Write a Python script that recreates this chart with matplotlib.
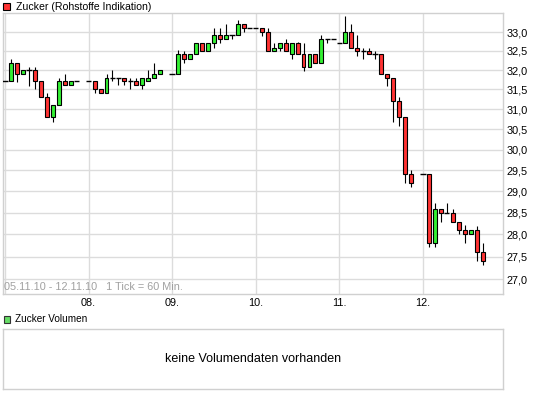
import matplotlib
matplotlib.use('Agg')
import matplotlib.pyplot as plt
from matplotlib.ticker import NullLocator, NullFormatter
from matplotlib.patches import Rectangle

plt.rcParams['font.family'] = ['Liberation Sans', 'DejaVu Sans']

# hourly slot index (14 slots per trading day)
slots = [0, 1, 2, 3, 4, 5, 6, 7, 8, 9, 10, 11, 12,
         14, 15, 16, 17, 18, 19, 20, 21, 22, 23, 24, 25, 26,
         28, 29, 30, 31, 32, 33, 34, 35, 36, 37, 38, 39, 40, 41,
         42, 43, 44, 45, 46, 47, 48, 49, 50, 51, 52, 53, 54, 55,
         56, 57, 58, 59, 60, 61, 62, 63, 64, 65, 66, 67, 68,
         70, 71, 72, 73, 74, 75, 76, 77, 78, 79, 80]
opens = [31.71, 31.71, 32.19, 31.90, 32.00, 32.00, 31.71, 31.30, 30.80, 31.10, 31.71, 31.61, 31.71,
         31.71, 31.71, 31.50, 31.40, 31.80, 31.80, 31.80, 31.71, 31.71, 31.61, 31.71, 31.80, 31.90,
         31.90, 31.90, 32.41, 32.30, 32.41, 32.70, 32.50, 32.70, 32.93, 32.81, 32.93, 32.93, 33.22, 33.11,
         33.11, 33.11, 33.00, 32.50, 32.59, 32.70, 32.41, 32.70, 32.41, 32.07, 32.41, 32.18, 32.81, 32.81,
         32.70, 32.70, 33.00, 32.59, 32.50, 32.50, 32.41, 32.41, 31.90, 31.80, 31.20, 30.80, 29.40,
         29.40, 29.40, 27.80, 28.59, 28.49, 28.49, 28.29, 28.10, 28.00, 28.10, 27.60]
highs = [31.71, 32.30, 32.19, 32.00, 32.09, 32.09, 31.71, 31.42, 31.10, 31.80, 31.90, 31.71, 31.71,
         31.71, 31.71, 31.50, 31.90, 32.00, 31.80, 31.80, 31.80, 31.80, 31.80, 32.00, 32.19, 32.00,
         31.90, 32.52, 32.50, 32.41, 32.70, 32.70, 32.70, 33.11, 33.11, 33.22, 32.93, 33.32, 33.22, 33.11,
         33.11, 33.11, 33.11, 32.70, 32.70, 32.81, 32.70, 32.75, 32.70, 32.41, 32.41, 32.93, 32.81, 32.81,
         32.70, 33.43, 33.22, 32.93, 32.59, 32.59, 32.50, 32.41, 31.90, 31.80, 31.30, 30.80, 29.51,
         29.40, 29.40, 28.72, 28.59, 28.72, 28.59, 28.29, 28.21, 28.10, 28.20, 27.80]
lows = [31.71, 31.71, 31.70, 31.90, 31.60, 31.50, 31.30, 30.80, 30.69, 31.10, 31.61, 31.61, 31.71,
        31.71, 31.40, 31.40, 31.40, 31.71, 31.61, 31.61, 31.50, 31.61, 31.50, 31.71, 31.80, 31.90,
        31.90, 31.90, 32.18, 32.30, 32.41, 32.50, 32.50, 32.59, 32.70, 32.81, 32.81, 32.93, 33.00, 33.11,
        33.11, 32.90, 32.50, 32.50, 32.50, 32.50, 32.30, 32.41, 31.98, 32.07, 32.18, 32.18, 32.70, 32.81,
        32.70, 32.70, 32.59, 32.38, 32.30, 32.41, 32.30, 31.90, 31.59, 30.69, 30.59, 29.20, 29.10,
        29.40, 27.71, 27.71, 28.28, 28.49, 28.29, 28.00, 27.80, 28.00, 27.40, 27.31]
closes = [31.71, 32.19, 31.90, 32.00, 32.00, 31.71, 31.30, 30.80, 31.10, 31.71, 31.61, 31.71, 31.71,
          31.71, 31.50, 31.40, 31.80, 31.80, 31.80, 31.71, 31.71, 31.61, 31.80, 31.80, 31.90, 32.00,
          31.90, 32.41, 32.30, 32.41, 32.70, 32.50, 32.70, 32.93, 32.81, 32.93, 32.93, 33.22, 33.11, 33.11,
          33.11, 33.00, 32.50, 32.59, 32.70, 32.50, 32.70, 32.41, 32.07, 32.41, 32.18, 32.81, 32.81, 32.81,
          32.70, 33.00, 32.59, 32.50, 32.50, 32.41, 32.41, 31.90, 31.80, 31.20, 30.80, 29.40, 29.20,
          29.40, 27.80, 28.59, 28.49, 28.49, 28.29, 28.10, 28.00, 28.10, 27.60, 27.40]

day_slots = [14, 28, 42, 56, 70]
day_labels = ['08.', '09.', '10.', '11.', '12.']
price_ticks = [27.0, 27.5, 28.0, 28.5, 29.0, 29.5, 30.0, 30.5, 31.0, 31.5, 32.0, 32.5, 33.0]
price_labels = [f"{v:.1f}".replace('.', ',') for v in price_ticks]

W, H = 545, 398
fig = plt.figure(figsize=(W / 100, H / 100), dpi=100)


def fx(x):
    return x / W


def fy(y):
    return 1 - y / H


GRID = '#dcdcdc'
FRAME = '#d0d0d0'
GREEN = '#33f033'
RED = '#ff3333'

ax = fig.add_axes([fx(3), fy(293.5), fx(503.3) - fx(3), fy(13.3) - fy(293.5)])
ax.set_yscale('log')
ax.set_xlim(-0.34, 83.47)
ax.set_ylim(26.69, 33.51)

for p in price_ticks:
    ax.axhline(p, color=GRID, lw=1, zorder=0)
for d in [0] + day_slots:
    ax.axvline(d, color=GRID, lw=1, zorder=0)

bw = 0.66
for k, o, h, l, c in zip(slots, opens, highs, lows, closes):
    if h > l:
        ax.vlines(k, l, h, color='black', lw=0.8, zorder=2)
    if abs(c - o) < 1e-9:
        ax.hlines(o, k - 0.45, k + 0.45, color='black', lw=1.0, zorder=3)
    else:
        col = GREEN if c > o else RED
        ax.bar(k, abs(c - o), bottom=min(o, c), width=bw, color=col,
               edgecolor='black', linewidth=0.8, zorder=3)

ax.yaxis.tick_right()
ax.set_yticks(price_ticks)
ax.set_yticklabels(price_labels)
ax.yaxis.set_minor_locator(NullLocator())
ax.yaxis.set_minor_formatter(NullFormatter())
ax.set_xticks(day_slots)
ax.set_xticklabels(day_labels)
ax.tick_params(axis='y', length=0, pad=2.5, labelsize=7.8, colors='black')
ax.tick_params(axis='x', length=0, pad=3.5, labelsize=7.8, colors='black')
for s in ax.spines.values():
    s.set_color(FRAME)
    s.set_linewidth(1)

# info text inside the chart
fig.text(fx(4), fy(287), '05.11.10 - 12.11.10   1 Tick = 60 Min.', color='#a0a0a0',
         fontsize=7.8, va='center', ha='left')

# title legend
fig.add_artist(Rectangle((fx(3), fy(10)), 7 / W, 7 / H, transform=fig.transFigure,
                         facecolor=RED, edgecolor='black', lw=0.8))
fig.text(fx(16), fy(6.5), 'Zucker (Rohstoffe Indikation)', fontsize=7.6,
         va='center', ha='left', color='black')

# volume panel
vax = fig.add_axes([fx(3), fy(389), fx(503.3) - fx(3), (389 - 329.3) / H])
vax.set_xticks([])
vax.set_yticks([])
for s in vax.spines.values():
    s.set_color(FRAME)
    s.set_linewidth(1)
vax.text(0.5, 0.5, 'keine Volumendaten vorhanden', transform=vax.transAxes,
         ha='center', va='center', fontsize=9, color='black')

fig.add_artist(Rectangle((fx(3.5), fy(322.5)), 6.5 / W, 6.5 / H, transform=fig.transFigure,
                         facecolor='#66dd66', edgecolor='#333333', lw=0.8))
fig.text(fx(15), fy(319.5), 'Zucker Volumen', fontsize=7.2, va='center', ha='left', color='black')

fig.savefig('out.png', dpi=100)
